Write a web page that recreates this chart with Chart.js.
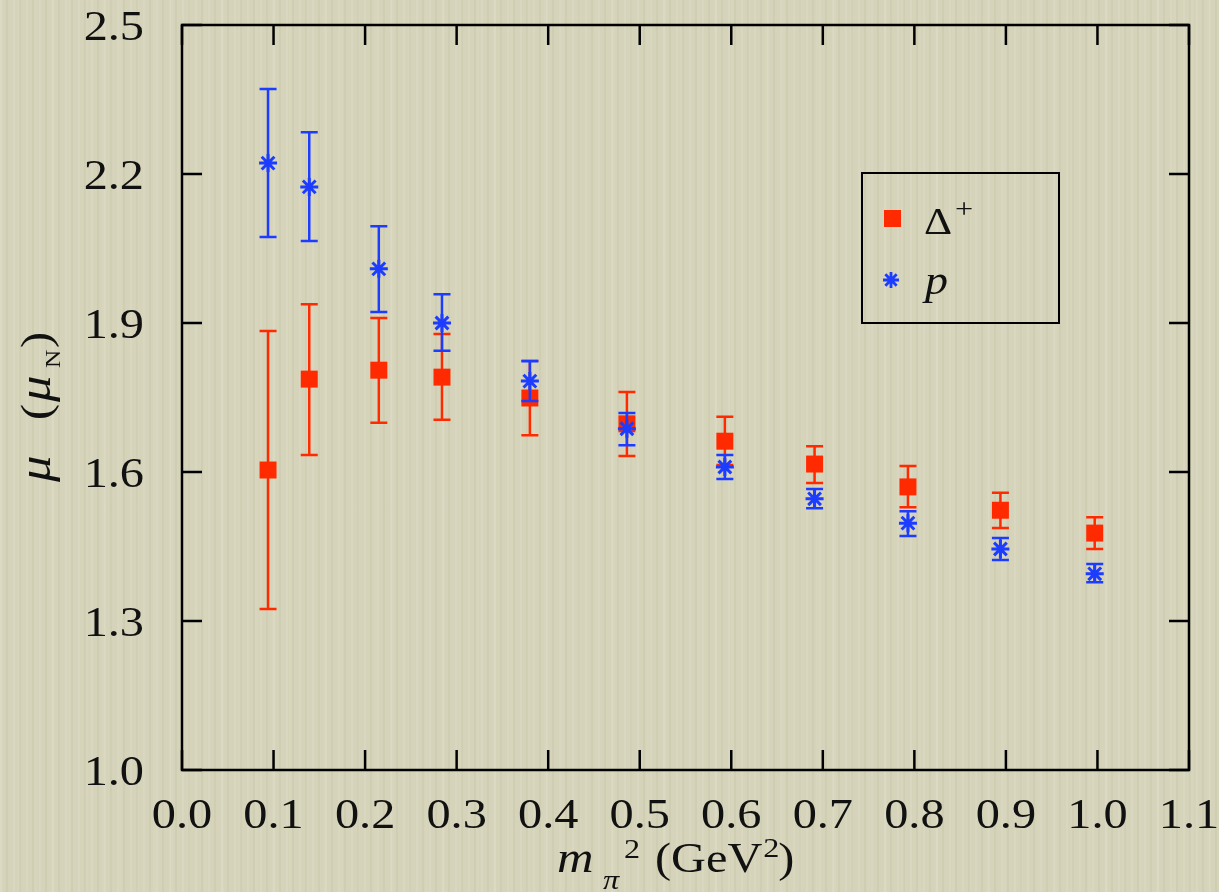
<!DOCTYPE html>
<html>
<head>
<meta charset="utf-8">
<script src="https://cdn.jsdelivr.net/npm/chart.js@4/dist/chart.umd.min.js"></script>
<style>
  html, body { margin: 0; padding: 0; }
  body {
    width: 1219px; height: 892px; overflow: hidden;
    background-color: #d5d3b9;
    background-image:
      repeating-linear-gradient(90deg, rgba(255,255,255,0.10) 0px, rgba(255,255,255,0.10) 2px, rgba(0,0,0,0) 2px, rgba(0,0,0,0) 6px, rgba(120,110,80,0.06) 6px, rgba(120,110,80,0.06) 8px, rgba(0,0,0,0) 8px, rgba(0,0,0,0) 13px),
      repeating-linear-gradient(90deg, rgba(255,255,240,0.06) 0px, rgba(255,255,240,0.06) 3px, rgba(0,0,0,0) 3px, rgba(0,0,0,0) 17px);
  }
  canvas { display: block; }
</style>
</head>
<body>
<canvas id="c" width="1219" height="892"></canvas>
<script>
// ---- data ----
const mpi2 = [0.094, 0.139, 0.215, 0.284, 0.380, 0.486, 0.593, 0.691, 0.793, 0.894, 0.997];

const deltaMu    = [1.604, 1.787, 1.805, 1.791, 1.749, 1.697, 1.662, 1.616, 1.570, 1.523, 1.477];
const deltaUpper = [1.884, 1.938, 1.910, 1.878, 1.824, 1.761, 1.711, 1.652, 1.612, 1.558, 1.509];
const deltaLower = [1.324, 1.634, 1.699, 1.705, 1.674, 1.632, 1.614, 1.578, 1.529, 1.487, 1.445];

const protonMu    = [2.222, 2.174, 2.009, 1.900, 1.783, 1.687, 1.610, 1.546, 1.497, 1.445, 1.395];
const protonUpper = [2.371, 2.284, 2.095, 1.958, 1.823, 1.719, 1.634, 1.566, 1.521, 1.467, 1.415];
const protonLower = [2.073, 2.065, 1.922, 1.844, 1.743, 1.654, 1.586, 1.527, 1.471, 1.423, 1.378];

const xTickValues = [0.0, 0.1, 0.2, 0.3, 0.4, 0.5, 0.6, 0.7, 0.8, 0.9, 1.0, 1.1];
const yTickValues = [1.0, 1.3, 1.6, 1.9, 2.2, 2.5];
const xTickLabels = ['0.0','0.1','0.2','0.3','0.4','0.5','0.6','0.7','0.8','0.9','1.0','1.1'];
const yTickLabels = ['1.0','1.3','1.6','1.9','2.2','2.5'];

const RED = '#ff2a00';
const BLUE = '#1c3cff';
const FONT = '"Liberation Serif", "Times New Roman", serif';
const STRETCH = 1.15;

function pts(xs, ys) { return xs.map((x, i) => ({ x: x, y: ys[i] })); }

const errorBars = [
  { upper: deltaUpper, lower: deltaLower, color: RED },
  { upper: protonUpper, lower: protonLower, color: BLUE }
];

function stretchedText(ctx, text, x, y, font, align) {
  ctx.save();
  ctx.font = font;
  const w = ctx.measureText(text).width * STRETCH;
  let x0 = x;
  if (align === 'center') x0 = x - w / 2;
  else if (align === 'right') x0 = x - w;
  ctx.translate(x0, y);
  ctx.scale(STRETCH, 1);
  ctx.textAlign = 'left';
  ctx.textBaseline = 'alphabetic';
  ctx.fillText(text, 0, 0);
  ctx.restore();
  return w;
}

const errorBarPlugin = {
  id: 'errorBars',
  beforeDatasetDraw(chart, args) {
    const eb = errorBars[args.index];
    if (!eb) return;
    const ctx = chart.ctx;
    const xs = chart.scales.x, ys = chart.scales.y;
    ctx.save();
    ctx.strokeStyle = eb.color;
    ctx.lineWidth = 2.5;
    ctx.lineCap = 'butt';
    const half = 8.5;
    mpi2.forEach((xv, i) => {
      const px = xs.getPixelForValue(xv);
      const pu = ys.getPixelForValue(eb.upper[i]);
      const pl = ys.getPixelForValue(eb.lower[i]);
      ctx.beginPath();
      ctx.moveTo(px, pu); ctx.lineTo(px, pl);
      ctx.moveTo(px - half, pu); ctx.lineTo(px + half, pu);
      ctx.moveTo(px - half, pl); ctx.lineTo(px + half, pl);
      ctx.stroke();
    });
    ctx.restore();
  }
};

const framePlugin = {
  id: 'frame',
  afterDatasetsDraw(chart) {
    const ctx = chart.ctx;
    const xs = chart.scales.x, ys = chart.scales.y;
    const a = chart.chartArea;
    ctx.save();
    ctx.strokeStyle = '#000';
    ctx.lineWidth = 2.5;
    ctx.strokeRect(a.left, a.top, a.right - a.left, a.bottom - a.top);
    const tl = 20;
    ctx.beginPath();
    xTickValues.forEach(v => {
      const px = xs.getPixelForValue(v);
      ctx.moveTo(px, a.bottom); ctx.lineTo(px, a.bottom - tl);
      ctx.moveTo(px, a.top); ctx.lineTo(px, a.top + tl);
    });
    yTickValues.forEach(v => {
      const py = ys.getPixelForValue(v);
      ctx.moveTo(a.left, py); ctx.lineTo(a.left + tl, py);
      ctx.moveTo(a.right, py); ctx.lineTo(a.right - tl, py);
    });
    ctx.stroke();

    ctx.fillStyle = '#111';
    const tickFont = '42px ' + FONT;
    xTickValues.forEach((v, i) => {
      const px = xs.getPixelForValue(v);
      stretchedText(ctx, xTickLabels[i], px, a.bottom + 58, tickFont, 'center');
    });
    yTickValues.forEach((v, i) => {
      const py = ys.getPixelForValue(v);
      stretchedText(ctx, yTickLabels[i], a.left - 38, py + 15, tickFont, 'right');
    });

    // x-axis title: m_pi^2 (GeV^2)
    const big = '42px ' + FONT;
    const bigIt = 'italic 44px ' + FONT;
    const small = '28px ' + FONT;
    const smallIt = 'italic 28px ' + FONT;
    stretchedText(ctx, 'm', 557, 872, bigIt, 'left');
    stretchedText(ctx, 'π', 603, 889, smallIt, 'left');
    stretchedText(ctx, '2', 624, 858, small, 'left');
    const w1 = stretchedText(ctx, '(GeV', 655, 872, big, 'left');
    stretchedText(ctx, '2', 655 + w1 + 1, 857, small, 'left');
    stretchedText(ctx, ')', 655 + w1 + 16, 872, big, 'left');

    // y-axis title: mu (mu_N), rotated
    ctx.save();
    ctx.translate(50, 482);
    ctx.rotate(-Math.PI / 2);
    stretchedText(ctx, 'μ', 0, 0, 'italic 46px ' + FONT, 'left');
    stretchedText(ctx, '(', 62, 0, big, 'left');
    stretchedText(ctx, 'μ', 80, 0, 'italic 46px ' + FONT, 'left');
    stretchedText(ctx, 'N', 114, 10, '22px ' + FONT, 'left');
    stretchedText(ctx, ')', 134, 0, big, 'left');
    ctx.restore();

    // legend
    ctx.lineWidth = 2;
    ctx.strokeStyle = '#000';
    ctx.strokeRect(862, 173, 197, 150);
    ctx.fillStyle = RED;
    ctx.fillRect(884, 210, 17, 17);
    ctx.fillStyle = '#111';
    stretchedText(ctx, 'Δ', 924, 234, '38px ' + FONT, 'left');
    stretchedText(ctx, '+', 955, 218, '28px ' + FONT, 'left');
    stretchedText(ctx, 'p', 925, 294, 'italic 40px ' + FONT, 'left');
    ctx.strokeStyle = BLUE;
    ctx.lineWidth = 2.8;
    Chart.helpers.drawPoint(ctx, { pointStyle: 'star', radius: 8, borderWidth: 2.8 }, 891, 280);
    ctx.restore();
  }
};

new Chart(document.getElementById('c'), {
  type: 'scatter',
  data: {
    datasets: [
      {
        label: 'Δ⁺',
        data: pts(mpi2, deltaMu),
        pointStyle: 'rect',
        pointRadius: 12,
        pointHoverRadius: 12,
        backgroundColor: RED,
        borderColor: RED,
        borderWidth: 0,
        order: 2
      },
      {
        label: 'p',
        data: pts(mpi2, protonMu),
        pointStyle: 'star',
        pointRadius: 9,
        pointHoverRadius: 9,
        backgroundColor: BLUE,
        borderColor: BLUE,
        borderWidth: 3,
        order: 1
      }
    ]
  },
  options: {
    responsive: false,
    animation: false,
    events: [],
    layout: { padding: { left: 182, right: 30, top: 25, bottom: 122 } },
    plugins: { legend: { display: false }, tooltip: { enabled: false } },
    scales: {
      x: {
        type: 'linear', min: 0, max: 1.1,
        grid: { display: false }, border: { display: false },
        ticks: { display: false, stepSize: 0.1 },
        afterFit(scale) { scale.height = 0; }
      },
      y: {
        type: 'linear', min: 1.0, max: 2.5,
        grid: { display: false }, border: { display: false },
        ticks: { display: false, stepSize: 0.3 },
        afterFit(scale) { scale.width = 0; }
      }
    }
  },
  plugins: [errorBarPlugin, framePlugin]
});
</script>
</body>
</html>
